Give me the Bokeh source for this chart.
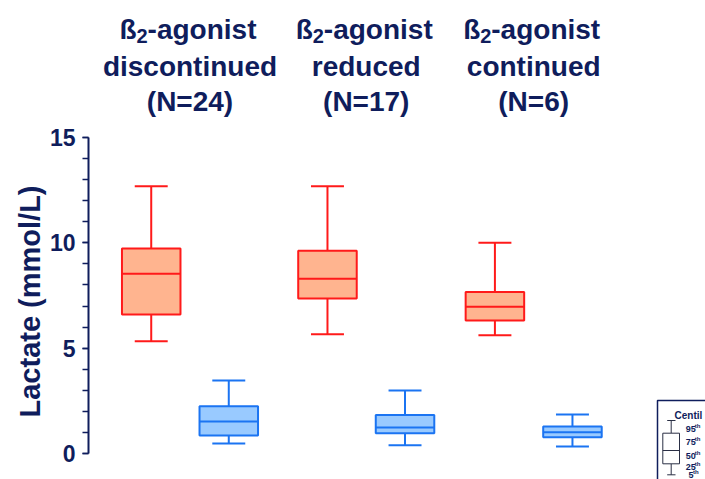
from bokeh.plotting import figure
from bokeh.models import Range1d, LinearAxis, FixedTicker, Title
from bokeh.core.properties import value
from bokeh.embed import file_html
from bokeh.resources import INLINE

# ---------------- data ----------------
groups = ["discontinued", "reduced", "continued"]
group_n = [24, 17, 6]
group_x = [1.0, 2.0, 2.95]

red_p5 = [5.33, 5.66, 5.61]
red_p25 = [6.60, 7.36, 6.31]
red_p50 = [8.53, 8.29, 6.96]
red_p75 = [9.73, 9.62, 7.67]
red_p95 = [12.69, 12.69, 10.00]

blue_p5 = [0.47, 0.39, 0.33]
blue_p25 = [0.85, 0.96, 0.77]
blue_p50 = [1.52, 1.23, 1.01]
blue_p75 = [2.24, 1.83, 1.28]
blue_p95 = [3.46, 2.99, 1.85]

y_major_ticks = [0, 5, 10, 15]
y_minor_ticks = list(range(0, 16))
y_label = "Lactate (mmol/L)"
legend_title = "Centil"
legend_pcts = ["95", "75", "50", "25", "5"]

# ---------------- style ----------------
NAVY = "#0f1d5c"
RED_LINE = "#ff1a1a"
RED_FILL = "#ffb48f"
BLUE_LINE = "#1b74f2"
BLUE_FILL = "#99caff"
FONT = "Liberation Sans"

OFFSET = 0.22
BOX_W = 0.332
CAP_W = 0.187

W, H = 705, 479
LEFT = 88

# pixel <-> data helpers (canvas coordinates)
PX_PER_X = 176.25
X0_PX = 189.5
PX_PER_Y = 21.067
Y0_PX = 453.0


def px2x(px):
    return 1.0 + (px - X0_PX) / PX_PER_X


def px2y(py):
    return (Y0_PX - py) / PX_PER_Y


def dx(px):
    return px / PX_PER_X


p = figure(width=W, height=H, output_backend="svg", toolbar_location=None,
           x_range=Range1d(px2x(LEFT), px2x(W)), y_range=Range1d(px2y(H), px2y(0)),
           x_axis_location=None, y_axis_location=None,
           min_border_left=LEFT, min_border_right=0, min_border_top=0, min_border_bottom=0)
p.outline_line_color = None
p.grid.visible = False
p.background_fill_color = "white"
p.border_fill_color = "white"

yaxis = LinearAxis(bounds=(0, 15),
                   ticker=FixedTicker(ticks=y_major_ticks, minor_ticks=y_minor_ticks))
yaxis.axis_line_color = NAVY
yaxis.axis_line_width = 2
yaxis.major_tick_line_color = NAVY
yaxis.major_tick_line_width = 1.5
yaxis.major_tick_in = 0
yaxis.major_tick_out = 6
yaxis.minor_tick_line_color = NAVY
yaxis.minor_tick_line_width = 1.5
yaxis.minor_tick_in = 0
yaxis.minor_tick_out = 6
yaxis.major_label_text_font = FONT
yaxis.major_label_text_font_style = "bold"
yaxis.major_label_text_font_size = "23px"
yaxis.major_label_text_color = NAVY
yaxis.major_label_standoff = 7
p.add_layout(yaxis, "left")

# y axis label as a vertical title in the left panel
p.add_layout(Title(text=y_label, align="left", offset=62, text_font=FONT,
                   text_font_style="bold", text_font_size="29px", text_color=NAVY,
                   standoff=2), "left")


def draw_boxes(xs, p5, p25, p50, p75, p95, line, fill):
    x0 = [x - BOX_W / 2 for x in xs]
    x1 = [x + BOX_W / 2 for x in xs]
    c0 = [x - CAP_W / 2 for x in xs]
    c1 = [x + CAP_W / 2 for x in xs]
    p.segment(x0=xs, x1=xs, y0=p75, y1=p95, line_color=line, line_width=2)
    p.segment(x0=xs, x1=xs, y0=p25, y1=p5, line_color=line, line_width=2)
    p.segment(x0=c0, x1=c1, y0=p95, y1=p95, line_color=line, line_width=2)
    p.segment(x0=c0, x1=c1, y0=p5, y1=p5, line_color=line, line_width=2)
    p.quad(left=x0, right=x1, bottom=p25, top=p75, fill_color=fill, line_color=line, line_width=2)
    p.segment(x0=x0, x1=x1, y0=p50, y1=p50, line_color=line, line_width=2)


red_x = [g - OFFSET for g in group_x]
blue_x = [g + OFFSET for g in group_x]
draw_boxes(red_x, red_p5, red_p25, red_p50, red_p75, red_p95, RED_LINE, RED_FILL)
draw_boxes(blue_x, blue_p5, blue_p25, blue_p50, blue_p75, blue_p95, BLUE_LINE, BLUE_FILL)

# group titles
TITLE_KW = dict(text_font=value(FONT), text_font_style="bold", text_color=NAVY,
                text_baseline="alphabetic")
# line 1: "ß" + subscript "2" + "-agonist"
w_beta, w_sub, w_rest = 17.1, 11.0, 108.9
total = w_beta + w_sub + w_rest
start = [g - dx(total / 2 + 2) for g in group_x]
y1 = [px2y(29)] * len(group_x)
p.text(x=start, y=y1, text=["ß"] * len(group_x), text_font_size="28px", text_align="left", **TITLE_KW)
p.text(x=[s + dx(w_beta) for s in start], y=[px2y(35)] * len(group_x), text=["2"] * len(group_x),
       text_font_size="20px", text_align="left", **TITLE_KW)
p.text(x=[s + dx(w_beta + w_sub) for s in start], y=y1, text=["-agonist"] * len(group_x),
       text_font_size="28px", text_align="left", **TITLE_KW)
p.text(x=group_x, y=[px2y(66)] * len(group_x), text=groups, text_font_size="28px",
       text_align="center", **TITLE_KW)
p.text(x=group_x, y=[px2y(101)] * len(group_x), text=["(N=%d)" % n for n in group_n],
       text_font_size="28px", text_align="center", **TITLE_KW)

# percentile key (bottom right)
p.quad(left=[px2x(657)], right=[px2x(740)], top=[px2y(400)], bottom=[px2y(500)],
       fill_color="white", line_color=NAVY, line_width=1.5)
p.text(x=[px2x(674)], y=[px2y(415)], text=[legend_title], text_font=value(FONT),
       text_font_style="bold", text_font_size="10px", text_color=NAVY,
       text_align="left", text_baseline="alphabetic")
kx = px2x(670.7)
kb0, kb1 = px2x(662.3), px2x(679)
kc0, kc1 = px2x(666.7), px2x(675)
k95, k75, k50, k25, k5 = [px2y(v) for v in (420, 432.7, 450, 463.3, 474.3)]
KEY = "#2a2f45"
p.segment(x0=[kx, kx, kc0, kc0], x1=[kx, kx, kc1, kc1], y0=[k75, k25, k95, k5],
          y1=[k95, k5, k95, k5], line_color=KEY, line_width=1)
p.quad(left=[kb0], right=[kb1], bottom=[k25], top=[k75], fill_color="white",
       line_color=KEY, line_width=1)
p.segment(x0=[kb0], x1=[kb1], y0=[k50], y1=[k50], line_color=KEY, line_width=1)
num_y = [428, 441, 455, 466.5, 474.5]
num_x = [685.3, 685.3, 685.3, 685.3, 688]
num_w = [9, 9, 9, 9, 4.5]
p.text(x=[px2x(v) for v in num_x], y=[px2y(v) for v in num_y], text=legend_pcts,
       text_font=value(FONT), text_font_style="bold", text_font_size="9px",
       text_color=NAVY, text_align="left", text_baseline="middle")
p.text(x=[px2x(a + w) for a, w in zip(num_x, num_w)], y=[px2y(v - 3) for v in num_y],
       text=["th"] * len(legend_pcts),
       text_font=value(FONT), text_font_style="bold", text_font_size="6px",
       text_color=NAVY, text_align="left", text_baseline="middle")

open("out.html", "w").write(file_html(p, INLINE))
